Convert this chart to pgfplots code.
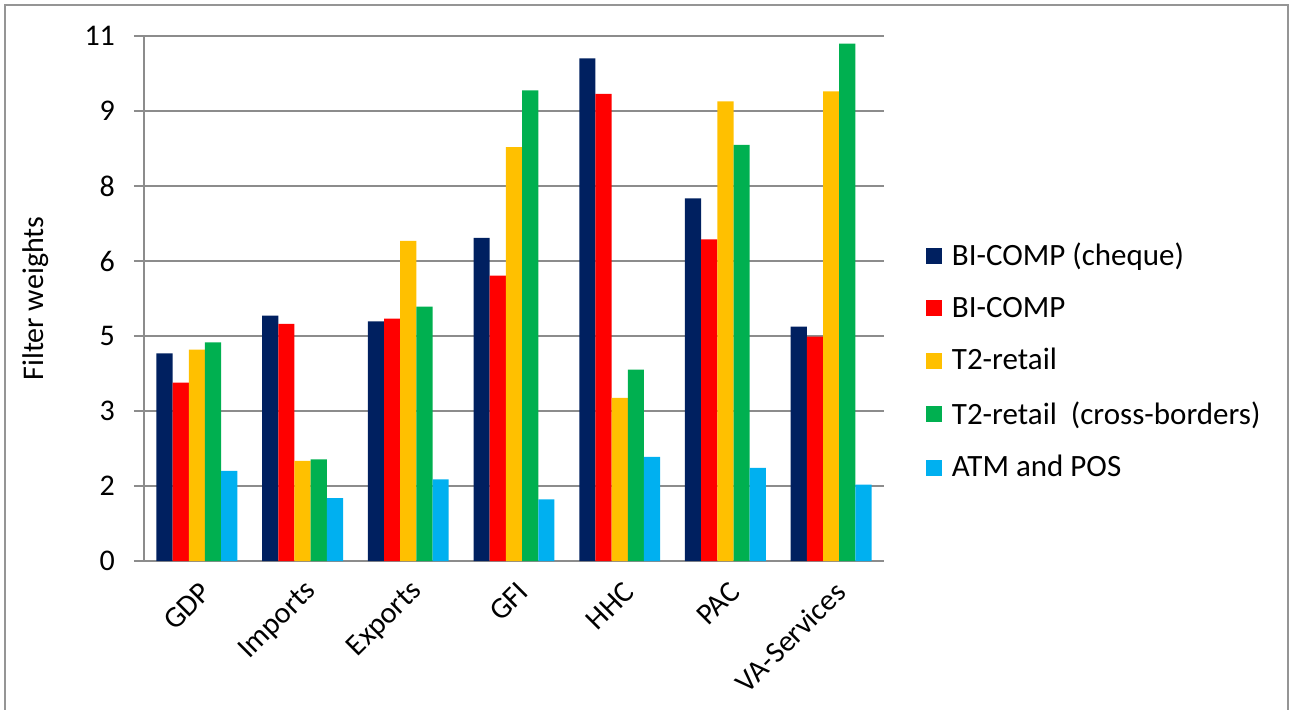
\documentclass[border=0pt]{standalone}
\usepackage{pgfplots}
\pgfplotsset{compat=1.18}
\usepackage{fontspec}
\setmainfont{Carlito}

\definecolor{cNavy}{HTML}{002060}
\definecolor{cRed}{HTML}{FF0000}
\definecolor{cAmber}{HTML}{FFC000}
\definecolor{cGreen}{HTML}{00B050}
\definecolor{cSky}{HTML}{00B0F0}
\definecolor{cGrid}{HTML}{8C8C8C}
\definecolor{cFrame}{HTML}{959595}

\begin{document}
\begin{tikzpicture}
\useasboundingbox (-72pt,-74pt) rectangle (573pt,280.5pt);
% outer frame (left, top, right)
\draw[cFrame, line width=1pt] (-69.5pt,-80pt) -- (-69.5pt,278pt) -- (571.75pt,278pt) -- (571.75pt,-80pt);
\begin{axis}[
  scale only axis,
  width=370pt, height=262.5pt,
  font=\fontsize{15}{18}\selectfont,
  /pgf/number format/assume math mode=true,
  ybar=0pt,
  bar width=0.153,
  xmin=-0.5, xmax=6.5,
  ymin=0, ymax=11,
  axis lines*=left,
  axis line style={cGrid, line width=1pt},
  xtick={0,1,2,3,4,5,6},
  xticklabels={GDP,Imports,Exports,GFI,HHC,PAC,VA-Services},
  x tick style={draw=none},
  xticklabel style={rotate=45, anchor=east, yshift=-9pt, xshift=1pt},
  ytick={0,1.5714,3.1429,4.7143,6.2857,7.8571,9.4286,11},
  yticklabels={0,2,3,5,6,8,9,11},
  y tick style={cGrid, line width=1pt},
  tick align=outside,
  major tick length=5pt,
  yticklabel style={xshift=-6pt},
  ymajorgrids,
  grid style={cGrid, line width=1pt},
  ylabel={Filter weights},
  ylabel style={at={(axis description cs:-0.147,0.5)}, anchor=center},
  legend style={at={(rel axis cs:1.048,0.622)}, anchor=north west, draw=none,
    fill=none, font=\fontsize{15.5}{18.5}\selectfont, row sep=10.2pt,
    column sep=3pt, legend cell align=left},
  legend image code/.code={\fill[#1] (0pt,-4pt) rectangle (8pt,4pt);},
]
\addplot[draw=none, fill=cNavy] coordinates {(0,4.35) (1,5.14) (2,5.02) (3,6.77) (4,10.53) (5,7.60) (6,4.91)};
\addplot[draw=none, fill=cRed] coordinates {(0,3.74) (1,4.97) (2,5.08) (3,5.98) (4,9.79) (5,6.74) (6,4.70)};
\addplot[draw=none, fill=cAmber] coordinates {(0,4.43) (1,2.10) (2,6.71) (3,8.67) (4,3.42) (5,9.63) (6,9.84)};
\addplot[draw=none, fill=cGreen] coordinates {(0,4.58) (1,2.13) (2,5.33) (3,9.86) (4,4.01) (5,8.72) (6,10.84)};
\addplot[draw=none, fill=cSky] coordinates {(0,1.89) (1,1.32) (2,1.71) (3,1.29) (4,2.18) (5,1.95) (6,1.60)};
\legend{BI-COMP (cheque), BI-COMP, T2-retail, T2-retail\ \ (cross-borders), ATM and POS}
\end{axis}
\end{tikzpicture}
\end{document}
